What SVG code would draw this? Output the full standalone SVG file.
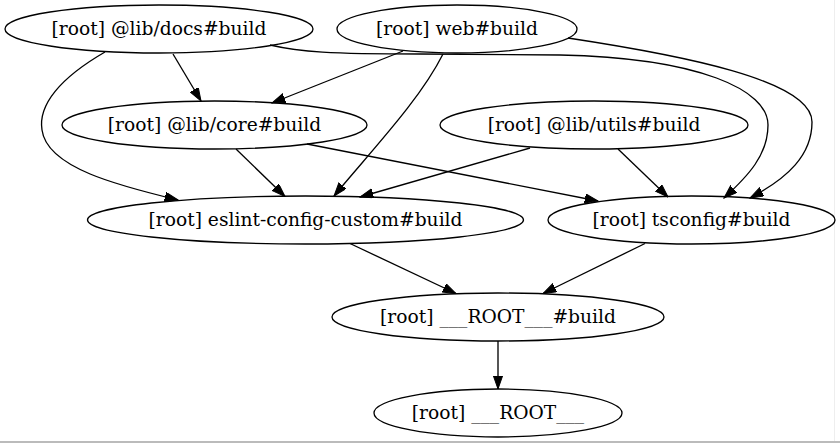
<svg xmlns="http://www.w3.org/2000/svg" width="840" height="443" viewBox="0 0 840 443">
<style>
.n ellipse{fill:none;stroke:#000;stroke-width:1.33}
.n text{font-family:"DejaVu Serif",serif;font-size:18.67px;text-anchor:middle;fill:#000}
.e path{fill:none;stroke:#000;stroke-width:1.33;marker-end:url(#ah)}
</style>
<defs>
<marker id="ah" markerUnits="userSpaceOnUse" markerWidth="14" markerHeight="10" refX="13.3" refY="4.67" orient="auto" viewBox="0 0 14 10">
<path d="M0,0 L13.3,4.67 L0,9.33 z" fill="#000" stroke="#000" stroke-width="1"/>
</marker>
</defs>
<rect x="0" y="0" width="840" height="443" fill="#fff"/>
<rect x="0" y="441" width="840" height="2" fill="#bbb"/>
<line x1="834.5" y1="0" x2="834.5" y2="441" stroke="#eee" stroke-width="1"/>
<g id="edges" class="e">
<path d="M173,54 L201,101"/>
<path d="M105,52 C60,78 38,105 42,130 C47,168 120,186 178,200"/>
<path d="M270,45 C300,52 330,54 420,54 L560,55 C700,58 768,90 768,125 C768,155 748,176 724,198"/>
<path d="M403,51 L272,103"/>
<path d="M443,54 C420,100 372,150 334,196"/>
<path d="M568,38 C680,55 812,80 812,122 C812,155 788,178 750,198"/>
<path d="M236,149 L285,196.5"/>
<path d="M307,144 L598,201"/>
<path d="M530,148 L360,197"/>
<path d="M618,149 L668,197"/>
<path d="M350,243.5 L456,293.5"/>
<path d="M645,243.5 L543,293.5"/>
<path d="M498,341 L498,389"/>
</g>
<g id="docs" class="n"><ellipse cx="159" cy="29" rx="154" ry="24"/><text x="159" y="35">[root] @lib/docs#build</text></g>
<g id="web" class="n"><ellipse cx="457" cy="29" rx="120" ry="24"/><text x="457" y="35">[root] web#build</text></g>
<g id="core" class="n"><ellipse cx="214.5" cy="125" rx="152.5" ry="24"/><text x="214.5" y="131">[root] @lib/core#build</text></g>
<g id="utils" class="n"><ellipse cx="594" cy="125" rx="154" ry="24"/><text x="594" y="131">[root] @lib/utils#build</text></g>
<g id="eslint" class="n"><ellipse cx="305.5" cy="220" rx="218" ry="24"/><text x="305.5" y="226">[root] eslint-config-custom#build</text></g>
<g id="tsconfig" class="n"><ellipse cx="691.5" cy="220" rx="143.5" ry="24"/><text x="691.5" y="226">[root] tsconfig#build</text></g>
<g id="rootbuild" class="n"><ellipse cx="498" cy="317" rx="166" ry="24"/><text x="498" y="323">[root] ___ROOT___#build</text></g>
<g id="root" class="n"><ellipse cx="498" cy="413" rx="124" ry="24"/><text x="498" y="419">[root] ___ROOT___</text></g>
</svg>
